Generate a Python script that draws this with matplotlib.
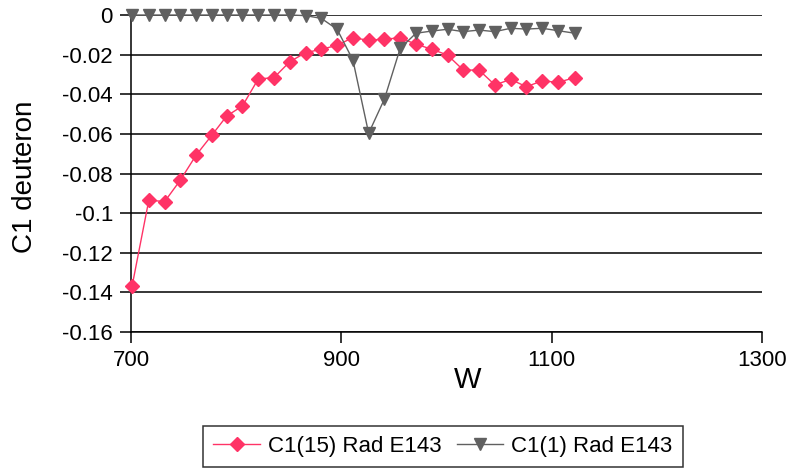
import matplotlib
matplotlib.use("Agg")
import matplotlib.pyplot as plt
from matplotlib.ticker import MultipleLocator, FormatStrFormatter

plt.rcParams['font.family'] = ['Liberation Sans', 'DejaVu Sans']
plt.rcParams['axes.unicode_minus'] = False

# Datos
W = [701, 717, 732, 747, 762, 777, 791, 806, 821, 836, 851, 866, 881, 896, 911,
     926, 941, 956, 971, 986, 1001, 1016, 1031, 1046, 1061, 1076, 1091, 1106, 1122]
c1_15 = [-0.137, -0.0934, -0.0942, -0.0833, -0.0707, -0.0606, -0.051, -0.0459,
         -0.0323, -0.0316, -0.0236, -0.019, -0.0173, -0.0153, -0.0114, -0.0128,
         -0.0121, -0.0116, -0.0147, -0.0173, -0.0202, -0.0278, -0.0278, -0.0353,
         -0.0325, -0.0362, -0.0332, -0.034, -0.0316]
c1_1 = [0, 0, 0, 0, 0, 0, 0, 0, 0, 0, 0, -0.0003, -0.0017, -0.0072, -0.0227,
        -0.0597, -0.0424, -0.0168, -0.0092, -0.0081, -0.0072, -0.0084, -0.0076,
        -0.0084, -0.0067, -0.0071, -0.0067, -0.0079, -0.0092]
x_ticks = [700, 900, 1100, 1300]

fig = plt.figure(figsize=(7.88, 4.69), dpi=100)
ax = fig.add_axes([0.1662, 0.2921, 0.8008, 0.6759])

ax.plot(W, c1_15, color='#ff3366', lw=1, marker='D', markersize=7.3,
        label='C1(15) Rad E143', clip_on=False, zorder=3)
ax.plot(W, c1_1, color='#606060', lw=1, marker='v', markersize=9,
        label='C1(1) Rad E143', clip_on=False, zorder=4)

ax.set_xlim(700, 1300)
ax.set_ylim(-0.16, 0)
ax.set_xticks(x_ticks)
ax.yaxis.set_major_locator(MultipleLocator(0.02))
ax.yaxis.set_major_formatter(FormatStrFormatter('%g'))
ax.grid(axis='y', color='black', lw=1.1)
ax.set_axisbelow(True)

for s in ['top', 'right']:
    ax.spines[s].set_visible(False)
for s in ['left', 'bottom']:
    ax.spines[s].set_color('black')
    ax.spines[s].set_linewidth(1.1)
ax.tick_params(length=8, width=1.1, labelsize=16, pad=5)

ax.set_xlabel('W', fontsize=21)
ax.xaxis.set_label_coords(0.534, -0.151)
ax.xaxis.label.set_va('center')
ax.set_ylabel('C1 deuteron', fontsize=20)
ax.yaxis.set_label_coords(-0.168, 0.49)
ax.yaxis.label.set_va('center')

leg = fig.legend(loc='center', bbox_to_anchor=(0.562, 0.049), ncol=2,
                 fontsize=16, frameon=True, fancybox=False, handlelength=2.1,
                 borderpad=0.45, columnspacing=0.7, handletextpad=0.35)
leg.get_frame().set_edgecolor('black')
leg.get_frame().set_linewidth(1.1)

fig.savefig('out.png', dpi=100)
